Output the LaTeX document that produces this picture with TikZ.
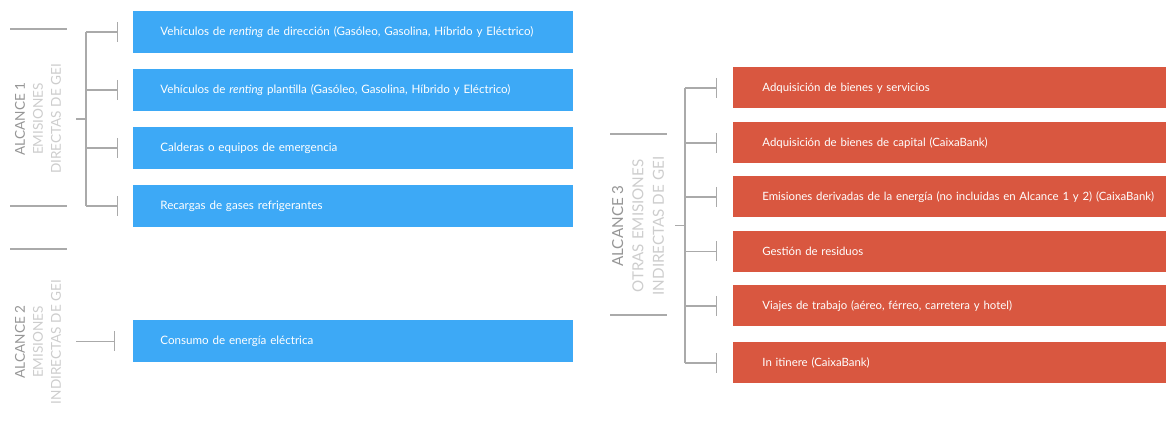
\documentclass[tikz,border=0pt]{standalone}
\usepackage{fontspec}
\setmainfont{Lato}
\usetikzlibrary{arrows.meta,calc}
\definecolor{boxblue}{RGB}{61,169,246}
\definecolor{boxred}{RGB}{217,87,64}
\definecolor{linegrey}{RGB}{170,170,170}
\definecolor{titlegrey}{RGB}{150,150,150}
\definecolor{softgrey}{RGB}{205,205,205}

\begin{document}
\begin{tikzpicture}[x=0.5pt,y=-0.5pt,
	bluebox/.style={anchor=west, fill=boxblue, text=white, minimum height=21pt, inner ysep=0pt, inner xsep=13.5pt, text width=193pt, align=left, font=\fontsize{5.8}{7}\selectfont},
	redbox/.style={anchor=west, fill=boxred, text=white, minimum height=20.5pt, inner ysep=0pt, inner xsep=14.5pt, text width=200pt, align=left, font=\fontsize{5.7}{7}\selectfont},
	scopelabel/.style={rotate=90, align=center, inner sep=0pt, text=softgrey, font=\fontsize{6.8}{9}\selectfont},
	bracket/.style={draw=linegrey, line width=0.6pt},
	tick/.style={bracket, -{Bar[width=10pt, line width=0.6pt]}},
	labelbar/.style={draw=linegrey, line width=1pt}]
	\useasboundingbox (0,0) rectangle (1166,431);

	\node[bluebox] (b1) at (133,32) {Vehículos de \textit{renting} de dirección (Gasóleo, Gasolina, Híbrido y Eléctrico)};
	\node[bluebox] (b2) at (133,90) {Vehículos de \textit{renting} plantilla (Gasóleo, Gasolina, Híbrido y Eléctrico)};
	\node[bluebox] (b3) at (133,148) {Calderas o equipos de emergencia};
	\node[bluebox] (b4) at (133,206) {Recargas de gases refrigerantes};
	\node[bluebox] (b5) at (133,341.5) {Consumo de energía eléctrica};

	\node[redbox] (r1) at (733,88) {Adquisición de bienes y servicios};
	\node[redbox] (r2) at (733,143) {Adquisición de bienes de capital (CaixaBank)};
	\node[redbox] (r3) at (733,197) {Emisiones derivadas de la energía (no incluidas en Alcance 1 y 2) (CaixaBank)};
	\node[redbox] (r4) at (733,251.5) {Gestión de residuos};
	\node[redbox] (r5) at (733,306) {Viajes de trabajo (aéreo, férreo, carretera y hotel)};
	\node[redbox] (r6) at (733,363) {In itinere (CaixaBank)};

	\node[scopelabel] (a1) at (38,119) {\textcolor{titlegrey}{ALCANCE 1}\\EMISIONES\\DIRECTAS DE GEI};
	\node[scopelabel] (a2) at (38,342) {\textcolor{titlegrey}{ALCANCE 2}\\EMISIONES\\INDIRECTAS DE GEI};
	\node[scopelabel, font=\fontsize{7.6}{10.2}\selectfont] (a3) at (638,226) {\textcolor{titlegrey}{ALCANCE 3}\\OTRAS EMISIONES\\INDIRECTAS DE GEI};

	\draw[labelbar] (10,29) -- (67,29);
	\draw[labelbar] (10,206) -- (67,206);
	\draw[labelbar] (10,249) -- (67,249);
	\draw[labelbar] (610,134) -- (667,134);
	\draw[labelbar] (610,315) -- (667,315);

	\coordinate (s1) at (86,0);
	\draw[bracket] (b1.west -| s1) -- (b4.west -| s1);
	\foreach \b in {b1,b2,b3,b4}
		\draw[tick] (\b.west -| s1) -- ([xshift=-7.5pt]\b.west);
	\draw[bracket] ($(b1.west -| s1)!.5!(b4.west -| s1)$) -- ++(-10,0);

	\draw[tick] ([xshift=-28.5pt]b5.west) -- ([xshift=-9pt]b5.west);

	\coordinate (s3) at (685,0);
	\draw[bracket] (r1.west -| s3) -- (r6.west -| s3);
	\foreach \r in {r1,r2,r3,r4,r5,r6}
		\draw[tick] (\r.west -| s3) -- ([xshift=-8pt]\r.west);
	\draw[bracket] ($(r1.west -| s3)!.5!(r6.west -| s3)$) -- ++(-10,0);
\end{tikzpicture}
\end{document}
